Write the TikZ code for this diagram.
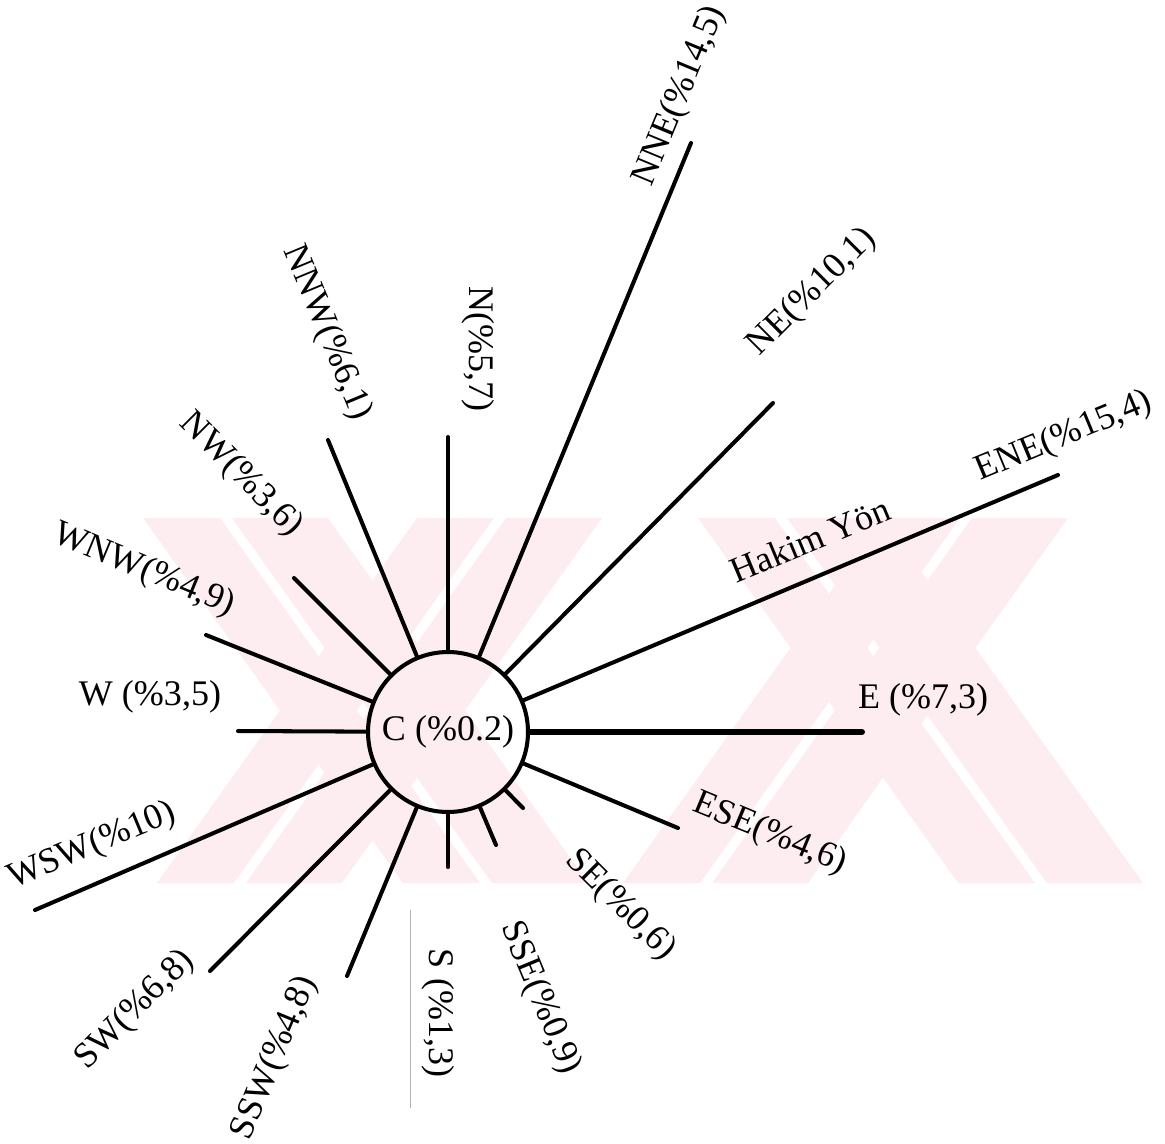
\documentclass[tikz,border=0pt]{standalone}
\usepackage{fontspec}
\setmainfont{Liberation Serif}
\definecolor{wmpink}{RGB}{253,236,240}
\begin{document}
\begin{tikzpicture}[x=0.02cm,y=-0.02cm,
  spoke/.style={line width=2.3pt, line cap=round},
  lbl/.style={font=\fontsize{20.5}{24}\selectfont, inner sep=0pt}]
\useasboundingbox (0,0) rectangle (1165,1143);
% faint watermark
\fill[wmpink] (143,518) -- (220,518) -- (480,883) -- (403,883) -- cycle;
\fill[wmpink] (232,518) -- (328,518) -- (588,883) -- (492,883) -- cycle;
\fill[wmpink] (157,883) -- (234,883) -- (494,518) -- (417,518) -- cycle;
\fill[wmpink] (246,883) -- (342,883) -- (602,518) -- (506,518) -- cycle;
\fill[wmpink] (698,518) -- (775,518) -- (1035,883) -- (958,883) -- cycle;
\fill[wmpink] (787,518) -- (883,518) -- (1143,883) -- (1047,883) -- cycle;
\fill[wmpink] (623,883) -- (700,883) -- (960,518) -- (883,518) -- cycle;
\fill[wmpink] (712,883) -- (808,883) -- (1068,518) -- (972,518) -- cycle;
% scan line
\draw[gray!60, line width=0.4pt] (410,910) -- (410,1108);
% centre
\node[lbl, circle, draw, line width=2.3pt, minimum size=3.2cm] (c) at (448,732) {C (\%0.2)};
% spoke ends
\coordinate (eN) at (448,437);
\coordinate (eNNE) at (691,143);
\coordinate (eNE) at (773,403);
\coordinate (eENE) at (1058,475);
\coordinate (eE) at (862,732);
\coordinate (eESE) at (678,828);
\coordinate (eSE) at (523,808);
\coordinate (eSSE) at (496,845);
\coordinate (eS) at (448,867);
\coordinate (eSSW) at (347,976);
\coordinate (eSW) at (210,971);
\coordinate (eWSW) at (35,910);
\coordinate (eW) at (238,731);
\coordinate (eWNW) at (206,635);
\coordinate (eNW) at (294,578);
\coordinate (eNNW) at (328,440);
\foreach \e in {N,NNE,NE,ENE,ESE,SE,SSE,S,SSW,SW,WSW,W,WNW,NW,NNW}
  \draw[spoke] (c) -- (e\e);
\draw[spoke, line width=3.4pt] (c) -- (eE);
% labels
\node[lbl, rotate=-90] (lN) at (478,349) {N(\%5,7)};
\node[lbl, rotate=67.5] (lNNE) at (680,96) {NNE(\%14,5)};
\node[lbl, rotate=45] (lNE) at (812,292) {NE(\%10,1)};
\node[lbl, rotate=22.5] (lENE) at (1064,437) {ENE(\%15,4)};
\node[lbl, rotate=22.5] (lH) at (810,540) {Hakim Yön};
\node[lbl] (lE) at (923,700) {E (\%7,3)};
\node[lbl, rotate=-22.5] (lESE) at (770,834) {ESE(\%4,6)};
\node[lbl, rotate=-45] (lSE) at (620,905) {SE(\%0,6)};
\node[lbl, rotate=-67.5] (lSSE) at (540,998) {SSE(\%0,9)};
\node[lbl, rotate=-90] (lS) at (438,1013) {S (\%1,3)};
\node[lbl, rotate=67.5] (lSSW) at (275,1058) {SSW(\%4,8)};
\node[lbl, rotate=45] (lSW) at (135,1010) {SW(\%6,8)};
\node[lbl, rotate=22.5] (lWSW) at (92,846) {WSW(\%10)};
\node[lbl] (lW) at (150,697) {W (\%3,5)};
\node[lbl, rotate=-22.5] (lWNW) at (144,570) {WNW(\%4,9)};
\node[lbl, rotate=-45] (lNW) at (241,475) {NW(\%3,6)};
\node[lbl, rotate=-67.5] (lNNW) at (327,333) {NNW(\%6,1)};
\end{tikzpicture}
\end{document}
